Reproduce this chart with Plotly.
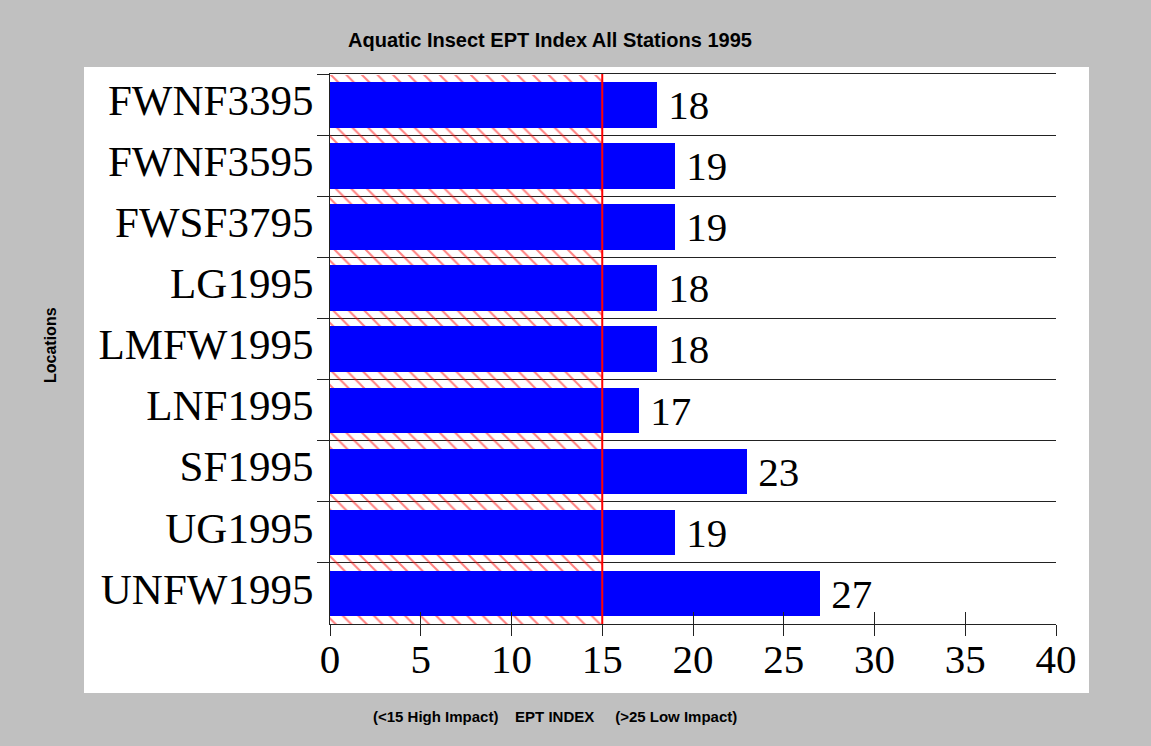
import plotly.graph_objects as go

locations = ["FWNF3395", "FWNF3595", "FWSF3795", "LG1995", "LMFW1995",
             "LNF1995", "SF1995", "UG1995", "UNFW1995"]
ept_index = [18, 19, 19, 18, 18, 17, 23, 19, 27]
threshold = 15
x_ticks = [0, 5, 10, 15, 20, 25, 30, 35, 40]

serif = "Liberation Serif, Times New Roman, serif"
sans = "Liberation Sans, Arial, sans-serif"

fig = go.Figure()

# hatched "high impact" zone (0..threshold)
fig.add_trace(go.Bar(
    y=locations, x=[threshold] * len(locations), base=0, orientation="h",
    width=1.0,
    marker=dict(color="rgba(0,0,0,0)", line=dict(width=0),
                pattern=dict(shape="\\", fgcolor="#ff0000", bgcolor="rgba(0,0,0,0)",
                             size=11, solidity=0.18, fillmode="overlay")),
    hoverinfo="skip", showlegend=False,
))

fig.add_trace(go.Bar(
    y=locations, x=ept_index, orientation="h", width=0.75,
    marker=dict(color="#0000ff", line=dict(width=0)),
    text=[f"\u2009{v}" for v in ept_index], textposition="outside",
    constraintext="none", cliponaxis=False,
    textfont=dict(family=serif, size=41, color="black"),
    showlegend=False,
))

# helper trace for second (inside-ticks) x-axis
fig.add_trace(go.Scatter(x=[x_ticks[0], x_ticks[-1]], y=[locations[0], locations[0]],
                         xaxis="x2", yaxis="y", mode="markers",
                         marker=dict(opacity=0), hoverinfo="skip", showlegend=False))

fig.update_layout(
    width=1151, height=746,
    margin=dict(l=330, r=95, t=74, b=122),
    paper_bgcolor="#c0c0c0", plot_bgcolor="white",
    barmode="overlay", bargap=0,
    title=dict(text="<b>Aquatic Insect EPT Index All Stations 1995</b>",
               font=dict(family=sans, size=20, color="black"),
               x=550 / 1151, xanchor="center", xref="container",
               y=1 - 40 / 746, yanchor="middle", yref="container"),
    xaxis=dict(range=[0, 40], tickvals=x_ticks, ticks="outside", ticklen=11,
               tickwidth=1, tickcolor="#222", showgrid=False, zeroline=False,
               showline=True, linecolor="#222", linewidth=1, mirror=True,
               ticklabelstandoff=-12,
               tickfont=dict(family=serif, size=41, color="black")),
    xaxis2=dict(range=[0, 40], tickvals=x_ticks, ticks="inside", ticklen=12,
                tickwidth=1, tickcolor="#222", showgrid=False, zeroline=False,
                showticklabels=False, overlaying="x", anchor="y", side="bottom"),
    yaxis=dict(categoryorder="array", categoryarray=locations, autorange="reversed",
               tickson="boundaries", ticks="outside", ticklen=12, tickwidth=1,
               tickcolor="#222", showgrid=True, gridcolor="#222", gridwidth=1,
               showline=True, linecolor="#222", linewidth=1, zeroline=False,
               ticklabelstandoff=7, ticklabelshift=5,
               tickfont=dict(family=serif, size=43, color="black")),
    shapes=[
        dict(type="rect", xref="paper", yref="paper",
             x0=(84 - 330) / 726, x1=(1089 - 330) / 726,
             y0=(624 - 693) / 550, y1=(624 - 67) / 550,
             fillcolor="white", line=dict(width=0), layer="below"),
        dict(type="line", xref="x", yref="paper", x0=threshold, x1=threshold,
             y0=0, y1=1, line=dict(color="#ff0000", width=2), layer="above"),
    ],
    annotations=[
        dict(text="<b>(&lt;15 High Impact)    EPT INDEX     (&gt;25 Low Impact)</b>",
             xref="paper", yref="paper", x=(555 - 330) / 726, y=(624 - 716) / 550,
             showarrow=False, font=dict(family=sans, size=15, color="black"),
             xanchor="center", yanchor="middle"),
        dict(text="<b>Locations</b>", textangle=-90,
             xref="paper", yref="paper", x=(50 - 330) / 726, y=(624 - 345) / 550,
             showarrow=False, font=dict(family=sans, size=16, color="black"),
             xanchor="center", yanchor="middle"),
    ],
)

fig.write_html("out.html", config={"displayModeBar": False},
               post_script="document.body.style.margin='0';"
                           "document.body.style.background='#c0c0c0';")
